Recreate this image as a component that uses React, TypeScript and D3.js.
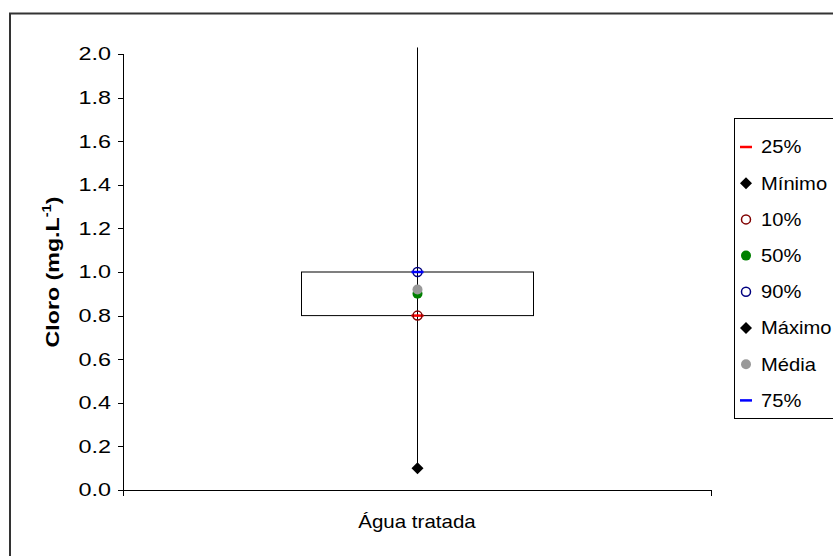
import React from "react";
import * as d3 from "d3";

const categories = ["Água tratada"];
const minimo = [0.1];
const p10 = [0.8];
const p25 = [0.8];
const p50 = [0.9];
const media = [0.92];
const p75 = [1.0];
const p90 = [1.0];
const maximo = [2.03];
const yTicks = [0, 0.2, 0.4, 0.6, 0.8, 1.0, 1.2, 1.4, 1.6, 1.8, 2.0];
const legendLabels = ["25%", "Mínimo", "10%", "50%", "90%", "Máximo", "Média", "75%"];

const W = 833, H = 556;
const font = "'Liberation Sans', Arial, sans-serif";

function Marker({ kind, x, y }: { kind: string; x: number; y: number }) {
  switch (kind) {
    case "25%":
      return <line x1={x - 6} x2={x + 6} y1={y} y2={y} stroke="#ff0000" strokeWidth={2.5} />;
    case "75%":
      return <line x1={x - 6} x2={x + 6} y1={y} y2={y} stroke="#0000ff" strokeWidth={2.5} />;
    case "Mínimo":
    case "Máximo":
      return <path d={`M${x},${y - 6}L${x + 6},${y}L${x},${y + 6}L${x - 6},${y}Z`} fill="#000" />;
    case "10%":
      return <circle cx={x} cy={y} r={4.5} fill="none" stroke="#800000" strokeWidth={1.5} />;
    case "90%":
      return <circle cx={x} cy={y} r={4.5} fill="none" stroke="#000080" strokeWidth={1.5} />;
    case "50%":
      return <circle cx={x} cy={y} r={5} fill="#008000" />;
    case "Média":
      return <circle cx={x} cy={y} r={5} fill="#999999" />;
  }
  return null;
}

function T({ x, y, sx, anchor, size, weight, children }: any) {
  return (
    <text
      transform={`translate(${x},${y}) scale(${sx},1)`}
      dy="0.35em"
      textAnchor={anchor || "start"}
      fontSize={size}
      fontWeight={weight || "normal"}
      fill="#000"
    >
      {children}
    </text>
  );
}

export default function App() {
  const x = d3.scaleBand().domain(categories).range([123, 711]);
  const y = d3.scaleLinear().domain([0, 2]).range([490, 54]);
  const boxHalf = 116;

  return (
    <svg width={W} height={H} style={{ position: "absolute", left: 0, top: 0 }} fontFamily={font}>
      <rect x={0} y={0} width={W} height={H} fill="#fff" />
      <rect x={10} y={13.5} width={W + 20} height={H + 20} fill="#fff" stroke="#333" strokeWidth={2} />
      {/* y axis */}
      <line x1={123.5} x2={123.5} y1={y(2)} y2={y(0)} stroke="#000" />
      {yTicks.map((t) => (
        <g key={t}>
          <line x1={118} x2={123.5} y1={Math.round(y(t)) + 0.5} y2={Math.round(y(t)) + 0.5} stroke="#000" />
          <T x={111} y={y(t)} sx={1.3} anchor="end" size={18}>{t.toFixed(1)}</T>
        </g>
      ))}
      {/* x axis */}
      <line x1={123} x2={711.5} y1={490.5} y2={490.5} stroke="#000" />
      <line x1={123.5} x2={123.5} y1={490} y2={496} stroke="#000" />
      <line x1={711.5} x2={711.5} y1={490} y2={496} stroke="#000" />
      {categories.map((c) => (
        <T key={c} x={x(c)! + x.bandwidth() / 2} y={522} sx={1.14} anchor="middle" size={18}>{c}</T>
      ))}
      {/* y title */}
      <text transform={`translate(52,${y(1)}) rotate(-90) scale(1.22,1)`} textAnchor="middle" fontSize={19} fontWeight="bold" dy="0.35em">
        Cloro (mg.L<tspan dy="-8" fontSize={12}>-1</tspan><tspan dy="8">)</tspan>
      </text>
      {categories.map((c, i) => {
        const cx = Math.round(x(c)! + x.bandwidth() / 2) + 0.5;
        return (
          <g key={c}>
            <line x1={cx} x2={cx} y1={y(maximo[i])} y2={y(minimo[i])} stroke="#000" />
            <rect x={cx - boxHalf} y={y(p75[i])} width={boxHalf * 2} height={y(p25[i]) - y(p75[i])} fill="none" stroke="#000" />
            <Marker kind="25%" x={cx} y={y(p25[i])} />
            <Marker kind="Mínimo" x={cx} y={y(minimo[i])} />
            <Marker kind="10%" x={cx} y={y(p10[i])} />
            <Marker kind="50%" x={cx} y={y(p50[i])} />
            <Marker kind="90%" x={cx} y={y(p90[i])} />
            <Marker kind="Média" x={cx} y={y(media[i])} />
            <Marker kind="75%" x={cx} y={y(p75[i])} />
          </g>
        );
      })}
      {/* legend */}
      <rect x={734.5} y={118.5} width={120} height={300} fill="#fff" stroke="#000" />
      {legendLabels.map((l, i) => {
        const ly = 147 + i * 36.2;
        return (
          <g key={l}>
            <Marker kind={l} x={746} y={ly} />
            <T x={761} y={ly} sx={1.12} size={18}>{l}</T>
          </g>
        );
      })}
    </svg>
  );
}
